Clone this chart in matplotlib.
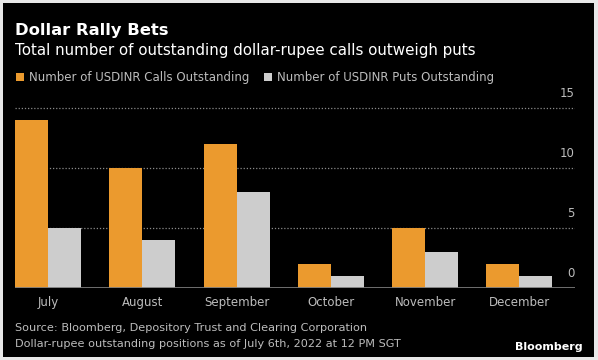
import matplotlib.pyplot as plt
import matplotlib.patches as mpatches
from matplotlib.transforms import blended_transform_factory
import numpy as np

meses = ["July", "August", "September", "October", "November", "December"]
calls = [14, 10, 12, 2, 5, 2]
puts = [5, 4, 8, 1, 3, 1]
ticks_y = [0, 5, 10, 15]

naranja = "#EB9A2E"
gris = "#CDCDCD"
texto = "#BDBDBD"

fig = plt.figure(figsize=(5.98, 3.6), dpi=100)
fig.patch.set_facecolor("#E8E8E8")
fondo = mpatches.Rectangle((3/598, 3/360), 591/598, 354/360, transform=fig.transFigure,
                           facecolor="black", edgecolor="none", zorder=-10)
fig.patches.append(fondo)

#######################################
ax = fig.add_axes([15/598, 72/360, 560/598, 186/360])
ax.set_facecolor("none")
x = np.arange(len(meses))
w = 0.35
ax.bar(x - w/2, calls, w, color=naranja, zorder=3)
ax.bar(x + w/2, puts, w, color=gris, zorder=3)
ax.set_xlim(-0.35, 5.59)
ax.set_ylim(0, 15.5)

for v in ticks_y[1:]:
    ax.axhline(v, color="#8A8A8A", lw=0.9, ls=(0, (1, 1.5)), zorder=1)
ax.axhline(0, color="#7A7A7A", lw=2, zorder=4)

tr = blended_transform_factory(ax.transAxes, ax.transData)
for v in ticks_y:
    ax.annotate(str(v), xy=(1.0, v), xycoords=tr, xytext=(0, 6), textcoords="offset points",
                ha="right", va="bottom", color=texto, fontsize=8.5)

ax.set_xticks(x)
ax.set_xticklabels(meses, color=texto, fontsize=8.5)
ax.tick_params(axis="x", length=0, pad=6)
ax.set_yticks([])
for s in ax.spines.values():
    s.set_visible(False)

#######################################
fig.text(15/598, 1 - 30/360, "Dollar Rally Bets", color="white", fontsize=11.8,
         fontweight="bold", va="center")
fig.text(15/598, 1 - 50/360, "Total number of outstanding dollar-rupee calls outweigh puts",
         color="white", fontsize=10.9, va="center")

fig.patches.append(mpatches.Rectangle((16/598, 1 - 81/360), 8/598, 8/360, transform=fig.transFigure,
                                      facecolor=naranja, edgecolor="none"))
fig.text(29/598, 1 - 77/360, "Number of USDINR Calls Outstanding", color=texto, fontsize=8.5, va="center")
fig.patches.append(mpatches.Rectangle((264/598, 1 - 81/360), 8/598, 8/360, transform=fig.transFigure,
                                      facecolor=gris, edgecolor="none"))
fig.text(277/598, 1 - 77/360, "Number of USDINR Puts Outstanding", color=texto, fontsize=8.5, va="center")

fig.text(15/598, 1 - 328/360, "Source: Bloomberg, Depository Trust and Clearing Corporation",
         color=texto, fontsize=8.1, va="center")
fig.text(15/598, 1 - 344/360, "Dollar-rupee outstanding positions as of July 6th, 2022 at 12 PM SGT",
         color=texto, fontsize=8.1, va="center")
fig.text(583/598, 1 - 347/360, "Bloomberg", color="white", fontsize=8, fontweight="bold",
         ha="right", va="center")

plt.savefig("out.png", dpi=100, facecolor=fig.get_facecolor())
